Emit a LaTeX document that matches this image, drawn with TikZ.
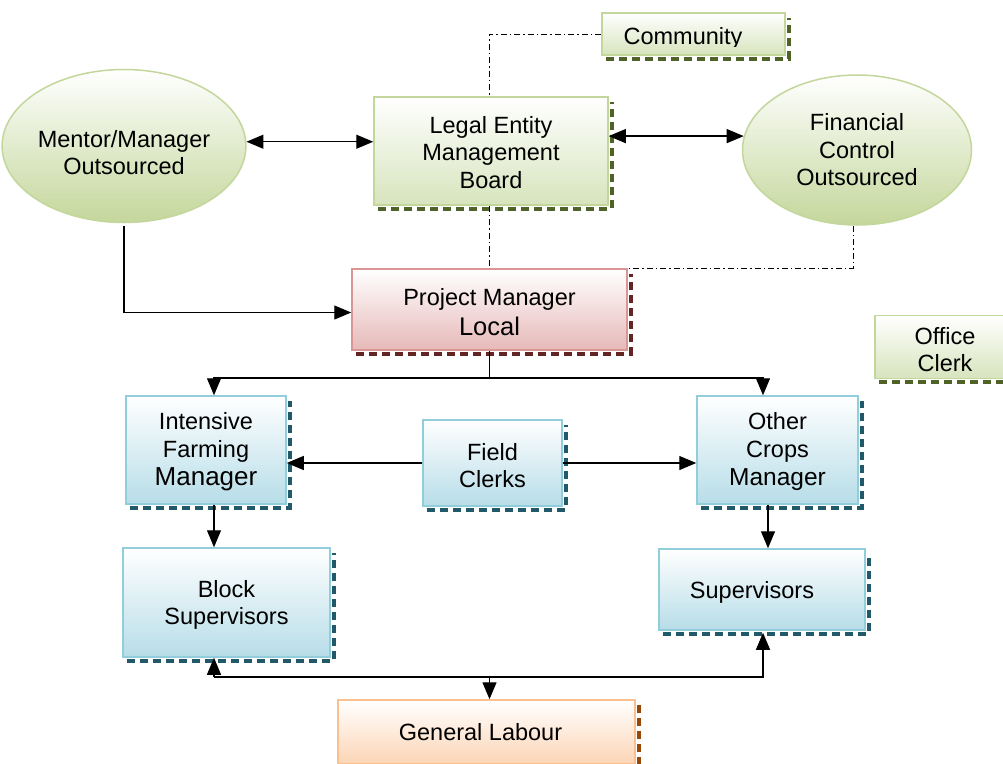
\documentclass[tikz,border=0pt]{standalone}
\usepackage{fontspec}
\setmainfont{Liberation Sans}
\usetikzlibrary{shapes.geometric,arrows.meta,calc}
\pgfdeclarelayer{bg}
\pgfdeclarelayer{paper}
\pgfsetlayers{paper,bg,main}
\definecolor{gbord}{RGB}{195,214,155}
\definecolor{gfill}{RGB}{215,228,189}
\definecolor{gell}{RGB}{196,215,155}
\definecolor{gshad}{RGB}{79,98,40}
\definecolor{rbord}{RGB}{217,150,148}
\definecolor{rfill}{RGB}{230,185,184}
\definecolor{rshad}{RGB}{99,37,35}
\definecolor{bbord}{RGB}{146,205,220}
\definecolor{bfill}{RGB}{183,221,232}
\definecolor{bshad}{RGB}{33,89,104}
\definecolor{obord}{RGB}{250,192,144}
\definecolor{ofill}{RGB}{252,213,181}
\definecolor{oshad}{RGB}{152,72,6}
\newcommand\myshadow[2]{\draw[shd=#2] ($(#1.south west)+(5,3)$) -- ($(#1.south east)+(3,3)$) -- ($(#1.north east)+(3,6)$);}
\begin{document}
\begin{tikzpicture}[x=1pt,y=-1pt,
  txt/.style={font=\fontsize{23.5}{27.5}\selectfont, align=center, text=black},
  box/.style={rectangle, draw=#1bord, line width=1.5pt, top color=white, bottom color=#1fill, inner sep=0pt, txt},
  ell/.style={ellipse, draw=gbord, line width=1.5pt, top color=white, bottom color=gell, inner sep=0pt, txt},
  shd/.style={draw=#1, line width=4pt, dash pattern=on 8pt off 5pt},
  arr/.style={-{Triangle[length=17pt,width=14pt]}, line width=1.2pt},
  dbl/.style={{Triangle[length=17pt,width=14pt]}-{Triangle[length=17pt,width=14pt]}, line width=1.2pt},
  plain/.style={line width=1.2pt},
  dd/.style={line width=1pt, dash pattern=on 6pt off 3pt on 1.5pt off 3pt}]
\useasboundingbox (0,0) rectangle (1003,763);
\begin{pgfonlayer}{paper}
  \fill[white] (0,0) rectangle (1003,763);
\end{pgfonlayer}

% coordinates
\coordinate (y378) at (0,378);
\coordinate (y677) at (0,677);
\coordinate (la) at (214,0);
\coordinate (rb) at (768,0);
\coordinate (rc) at (763,0);

% nodes
\node[box=g, minimum width=183, minimum height=42] (comm) at (693.5,34) {};
\begin{scope}
  \clip (602,13) rectangle (785,46);
  \node[txt] (commtext) at (683,38) {Community};
\end{scope}
\node[box=g, minimum width=234, minimum height=108] (legal) at (491,151) {\rule{0pt}{20pt}Legal Entity\\Management\\Board};
\node[ell, minimum width=230, minimum height=153] (mentor) at (124,146) {\rule{0pt}{30pt}Mentor/Manager\\Outsourced};
\node[ell, minimum width=229, minimum height=150] (fin) at (857,150) {Financial\\Control\\Outsourced};
\node[box=r, minimum width=275, minimum height=81] (pm) at (489.5,309.5) {\rule{0pt}{22pt}Project Manager\\[2pt]\fontsize{25.5}{28}\selectfont Local};
\node[box=g, minimum width=140, minimum height=63] (office) at (945,347) {\rule{0pt}{22pt}Office\\Clerk};
\node[box=b, minimum width=160, minimum height=108] (ifm) at (206,450) {\rule{0pt}{21pt}Intensive\\Farming\\[1pt]\fontsize{26}{28}\selectfont Manager};
\node[box=b, minimum width=139, minimum height=86] (fc) at (492.5,463) {\rule{0pt}{22pt}Field\\Clerks};
\node[box=b, minimum width=161, minimum height=108] (ocm) at (777.5,450) {\rule{0pt}{21pt}Other\\Crops\\[1pt]\fontsize{24.5}{28}\selectfont Manager};
\node[box=b, minimum width=207, minimum height=109] (block) at (226.5,602.5) {\rule{0pt}{22pt}Block\\Supervisors};
\node[box=b, minimum width=206, minimum height=81] (sup) at (762,589.5) {\rule{0pt}{22pt}\hspace*{-20pt}Supervisors};
\node[box=o, minimum width=297, minimum height=64] (gl) at (486.5,732) {\hspace*{-12pt}General Labour};

% shadows and background lines
\begin{pgfonlayer}{bg}
  \myshadow{comm}{gshad}
  \myshadow{legal}{gshad}
  \myshadow{pm}{rshad}
  \myshadow{office}{gshad}
  \myshadow{ifm}{bshad}
  \myshadow{fc}{bshad}
  \myshadow{ocm}{bshad}
  \myshadow{block}{bshad}
  \myshadow{sup}{bshad}
  \myshadow{gl}{oshad}
  \draw[dd] (comm.west) -| (pm.north);
  \draw[dd] ([xshift=-4pt]fin.south) |- (pm.north east);
\end{pgfonlayer}

% connectors
\draw[dbl] (mentor.2.5) -- (mentor.2.5 -| legal.west);
\draw[dbl] (legal.east |- fin.173.5) -- (fin.173.5);
\draw[arr] ([yshift=-3pt]mentor.south) |- ([yshift=-3pt]pm.west);
\draw[plain] (pm.south) -- (pm.south |- y378);
\draw[arr] (pm.south |- y378) -| (la |- ifm.north);
\draw[arr] (pm.south |- y378) -| (rc |- ocm.north);
\draw[arr] (fc.west) -- (fc.west -| ifm.east);
\draw[arr] (fc.east) -- (fc.east -| ocm.west);
\draw[arr] (la |- ifm.south) -- (la |- block.north);
\draw[arr] (rb |- ocm.south) -- (rb |- sup.north);
\draw[arr] (la |- y677) -- (la |- block.south);
\draw[arr] (la |- y677) -| ([yshift=-2pt]rc |- sup.south);
\draw[arr] (pm.south |- y677) -- (pm.south |- gl.north);
\end{tikzpicture}
\end{document}
